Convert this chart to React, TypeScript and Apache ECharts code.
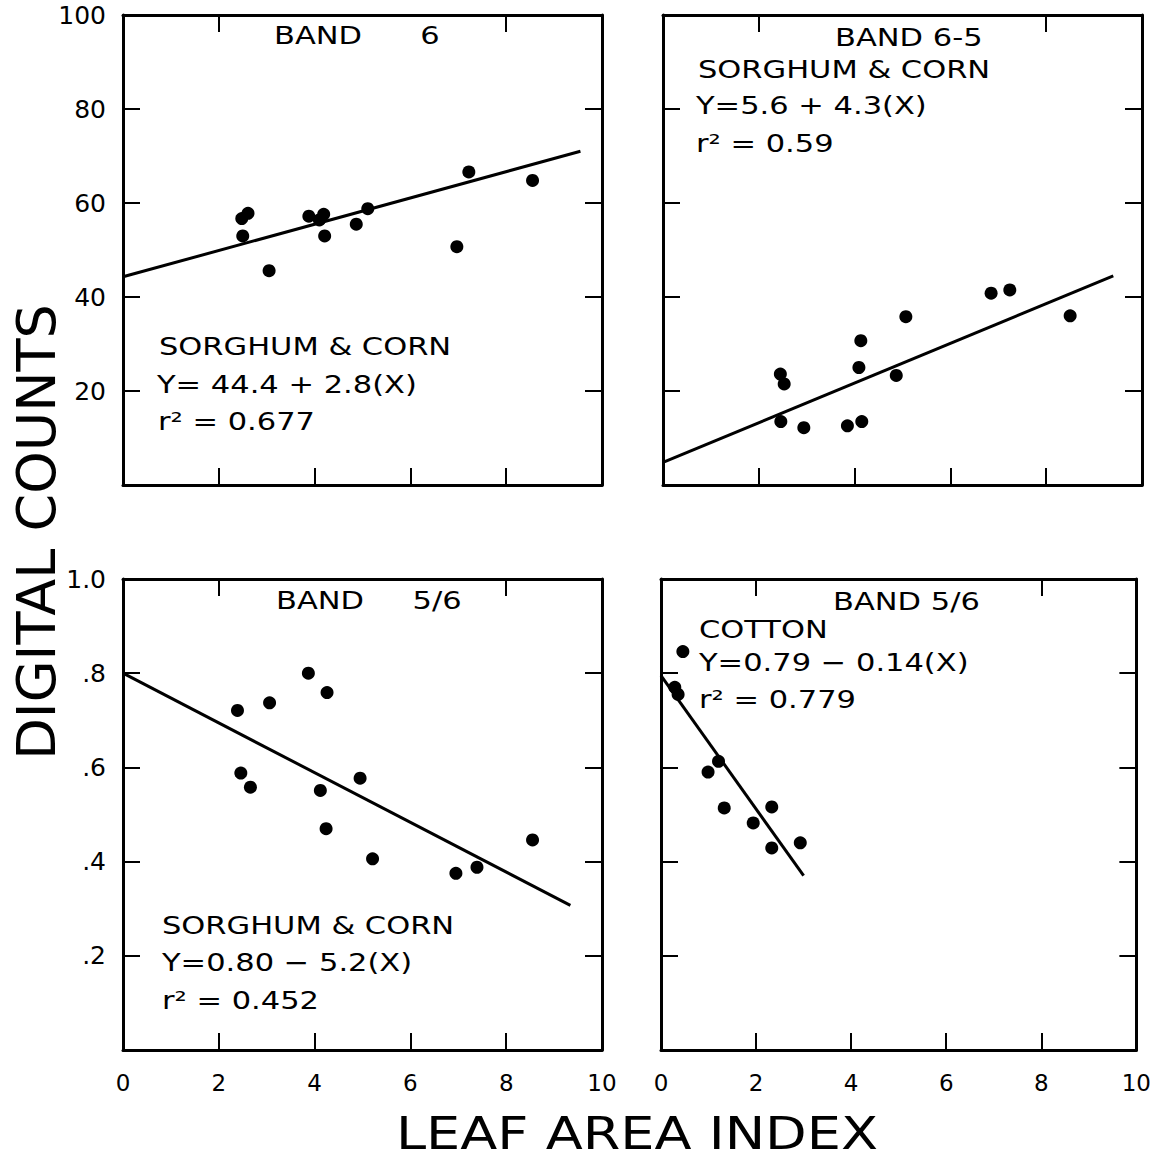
import React, { useEffect, useRef } from "react";
import * as echarts from "echarts";

// ---- tick labels ----
const xTickLabels = ["0", "2", "4", "6", "8", "10"];
const topYTickLabels = ["", "20", "40", "60", "80", "100"];
const bottomYTickLabels = ["", ".2", ".4", ".6", ".8", "1.0"];
const topTickValues = [2, 8];

// ---- panel 1: BAND 6, sorghum & corn ----
const band6Points = [
  [2.48, 56.7], [2.61, 57.8], [2.5, 53.0], [3.05, 45.6], [3.88, 57.2], [4.1, 56.4],
  [4.19, 57.6], [4.21, 53.0], [4.87, 55.5], [5.11, 58.8], [6.97, 50.7], [7.22, 66.6], [8.55, 64.8],
];
const band6Line = [[0, 44.3], [9.55, 71.0]];

// ---- panel 2: BAND 6-5, sorghum & corn ----
const band65Points = [
  [2.45, 23.6], [2.53, 21.5], [2.46, 13.5], [2.94, 12.2], [3.85, 12.6], [4.15, 13.5],
  [4.09, 25.0], [4.13, 30.7], [4.87, 23.3], [5.07, 35.8], [6.85, 40.8], [7.24, 41.5], [8.5, 36.0],
];
const band65Line = [[0, 4.8], [9.4, 44.5]];

// ---- panel 3: BAND 5/6, sorghum & corn ----
const ratioSCPoints = [
  [2.39, 0.721], [3.06, 0.737], [3.87, 0.8], [4.26, 0.759], [2.46, 0.588], [2.66, 0.558],
  [4.12, 0.551], [4.95, 0.577], [4.24, 0.47], [5.21, 0.406], [6.95, 0.375], [7.39, 0.388], [8.55, 0.446],
];
const ratioSCLine = [[0, 0.8], [9.34, 0.307]];

// ---- panel 4: BAND 5/6, cotton ----
const cottonPoints = [
  [0.46, 0.846], [0.29, 0.77], [0.36, 0.755], [1.21, 0.613], [0.99, 0.59],
  [1.33, 0.514], [1.94, 0.482], [2.33, 0.516], [2.33, 0.429], [2.93, 0.44],
];
const cottonLine = [[0, 0.795], [3.0, 0.37]];

// ---- texts ----
const panel1Texts = ["BAND      6", "SORGHUM & CORN", "Y= 44.4 + 2.8(X)", "r² = 0.677"];
const panel2Texts = ["BAND 6-5", "SORGHUM & CORN", "Y=5.6 + 4.3(X)", "r² = 0.59"];
const panel3Texts = ["BAND     5/6", "SORGHUM & CORN", "Y=0.80 − 5.2(X)", "r² = 0.452"];
const panel4Texts = ["BAND 5/6", "COTTON", "Y=0.79 − 0.14(X)", "r² = 0.779"];
const yTitle = "DIGITAL COUNTS";
const xTitle = "LEAF AREA INDEX";

const FONT = '"DejaVu Sans", sans-serif';

const grids = [
  { left: 123, top: 15, width: 479, height: 470 },
  { left: 663, top: 15, width: 479, height: 470 },
  { left: 123, top: 579, width: 479, height: 471 },
  { left: 661, top: 579, width: 481, height: 471 },
];

function makeXAxes(gi: number, showLabels: boolean) {
  const common = {
    type: "value",
    gridIndex: gi,
    min: 0,
    max: 10,
    interval: 2,
    splitLine: { show: false },
    axisLine: { show: true, onZero: false, lineStyle: { color: "#000", width: 3 } },
  };
  return [
    {
      ...common,
      position: "bottom",
      axisTick: { show: true, inside: true, length: 17, lineStyle: { color: "#000", width: 2 } },
      axisLabel: {
        show: showLabels,
        margin: 21,
        fontSize: 23,
        fontFamily: FONT,
        color: "#000",
        formatter: (v: number) => xTickLabels[Math.round(v / 2)] ?? "",
      },
    },
    {
      ...common,
      position: "top",
      axisTick: {
        show: true,
        inside: true,
        length: 17,
        customValues: topTickValues,
        lineStyle: { color: "#000", width: 2 },
      },
      axisLabel: { show: false },
    },
  ];
}

function makeYAxes(gi: number, top: boolean, showLabels: boolean) {
  const labels = top ? topYTickLabels : bottomYTickLabels;
  const step = top ? 20 : 0.2;
  const common = {
    type: "value",
    gridIndex: gi,
    min: 0,
    max: top ? 100 : 1,
    interval: step,
    splitLine: { show: false },
    axisLine: { show: true, onZero: false, lineStyle: { color: "#000", width: 3 } },
    axisTick: { show: true, inside: true, length: 17, lineStyle: { color: "#000", width: 2 } },
  };
  return [
    {
      ...common,
      position: "left",
      axisLabel: {
        show: showLabels,
        margin: 17,
        fontSize: 25,
        fontFamily: FONT,
        color: "#000",
        padding: [4, 0, 0, 0],
        formatter: (v: number) => labels[Math.round(v / step)] ?? "",
      },
    },
    { ...common, position: "right", axisLabel: { show: false } },
  ];
}

function panelSeries(i: number, points: number[][], line: number[][]) {
  return [
    {
      type: "line",
      xAxisIndex: 2 * i,
      yAxisIndex: 2 * i,
      data: line,
      symbol: "none",
      lineStyle: { color: "#000", width: 3 },
      z: 2,
    },
    {
      type: "scatter",
      xAxisIndex: 2 * i,
      yAxisIndex: 2 * i,
      data: points,
      symbol: "circle",
      symbolSize: 13,
      itemStyle: { color: "#000", opacity: 1 },
      z: 3,
    },
  ];
}

function txt(text: string, x: number, y: number, size = 25, sx = 1.22) {
  return {
    type: "text",
    x,
    y,
    scaleX: sx,
    z: 10,
    style: {
      text,
      fill: "#000",
      font: `${size}px ${FONT}`,
      textAlign: "left",
      textVerticalAlign: "middle",
    },
  };
}

function panelTexts(t: string[], pos: number[][]) {
  return t.map((s, k) => txt(s, pos[k][0], pos[k][1]));
}

export default function App() {
  const ref = useRef<HTMLDivElement>(null);
  useEffect(() => {
    if (!ref.current) return;
    const chart = echarts.init(ref.current, undefined, { renderer: "svg" });
    const option = {
      animation: false,
      backgroundColor: "#fff",
      grid: grids.map((g) => ({ ...g, containLabel: false })),
      xAxis: [
        ...makeXAxes(0, false),
        ...makeXAxes(1, false),
        ...makeXAxes(2, true),
        ...makeXAxes(3, true),
      ],
      yAxis: [
        ...makeYAxes(0, true, true),
        ...makeYAxes(1, true, false),
        ...makeYAxes(2, false, true),
        ...makeYAxes(3, false, false),
      ],
      series: [
        ...panelSeries(0, band6Points, band6Line),
        ...panelSeries(1, band65Points, band65Line),
        ...panelSeries(2, ratioSCPoints, ratioSCLine),
        ...panelSeries(3, cottonPoints, cottonLine),
      ],
      graphic: [
        ...panelTexts(panel1Texts, [[274, 35], [159, 346], [157, 384], [158, 421]]),
        ...panelTexts(panel2Texts, [[835, 37], [698, 69], [696, 105], [696, 143]]),
        ...panelTexts(panel3Texts, [[276, 600], [162, 925], [162, 962], [162, 1000]]),
        ...panelTexts(panel4Texts, [[833, 601], [699, 629], [699, 662], [699, 699]]),
        {
          type: "text",
          x: 36,
          y: 532,
          rotation: Math.PI / 2,
          z: 10,
          style: {
            text: yTitle,
            fill: "#000",
            font: `54px ${FONT}`,
            textAlign: "center",
            textVerticalAlign: "middle",
          },
        },
        {
          type: "text",
          x: 637,
          y: 1134,
          scaleX: 1.23,
          z: 10,
          style: {
            text: xTitle,
            fill: "#000",
            font: `44px ${FONT}`,
            textAlign: "center",
            textVerticalAlign: "middle",
          },
        },
      ],
    };
    chart.setOption(option as any);
    return () => chart.dispose();
  }, []);
  return (
    <div
      ref={ref}
      style={{ position: "absolute", left: 0, top: 0, width: 1154, height: 1162, background: "#fff" }}
    />
  );
}
